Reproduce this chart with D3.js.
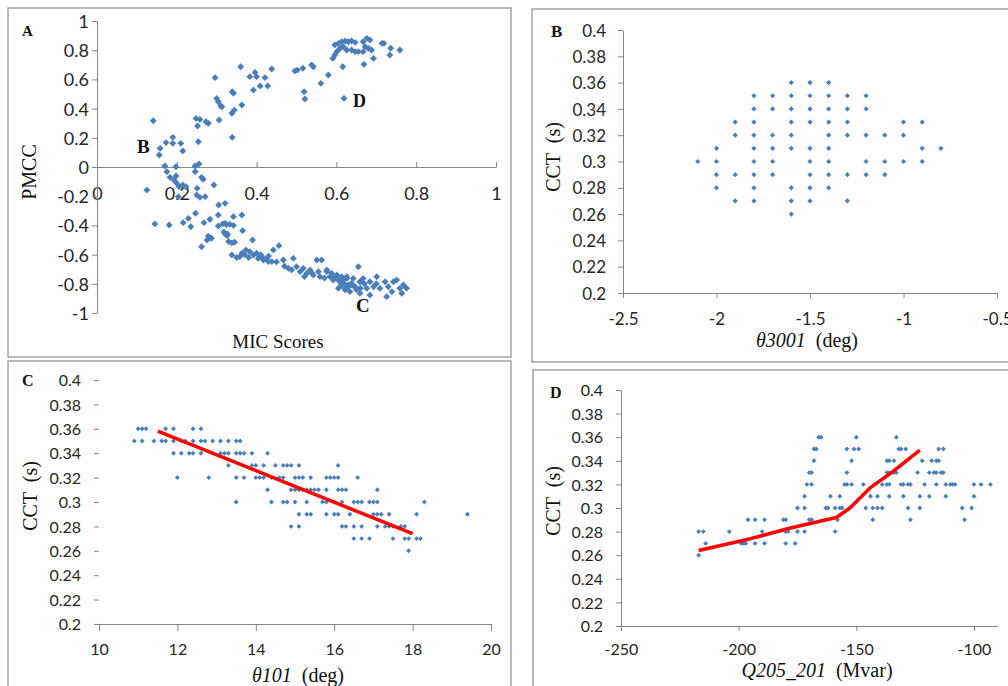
<!DOCTYPE html>
<html>
<head>
<meta charset="utf-8">
<script src="https://cdn.jsdelivr.net/npm/d3@7"></script>
<style>
    body { margin: 0; background: #fff; }
    .title { font-family: "Liberation Serif", "Times New Roman", serif; fill: #111; white-space: pre; }
</style>
</head>
<body>
<div id="chart"></div>
<script>
// ---- Panel A: MIC score vs PMCC for every variable ----
const pointsA = [
    [0.141,0.317],[0.158,0.128],[0.156,0.082],[0.173,0.167],[0.190,0.203],[0.190,0.162],[0.210,0.162],[0.215,0.110],
    [0.254,0.173],[0.248,0.333],[0.258,0.326],[0.273,0.310],[0.279,0.299],[0.306,0.322],[0.300,0.470],[0.310,0.418],
    [0.252,0.281],[0.296,0.612],[0.304,0.447],[0.313,0.413],[0.338,0.368],[0.344,0.390],[0.339,0.203],[0.342,0.505],
    [0.339,0.516],[0.363,0.425],[0.360,0.687],[0.383,0.619],[0.396,0.648],[0.400,0.619],[0.421,0.612],[0.438,0.671],
    [0.392,0.527],[0.409,0.555],[0.428,0.555],[0.496,0.658],[0.502,0.664],[0.516,0.676],[0.538,0.699],[0.542,0.687],
    [0.519,0.516],[0.521,0.466],[0.561,0.573],[0.580,0.630],[0.591,0.744],[0.596,0.767],[0.601,0.790],[0.596,0.836],
    [0.605,0.847],[0.613,0.858],[0.622,0.863],[0.630,0.858],[0.638,0.863],[0.647,0.854],[0.609,0.813],[0.617,0.824],
    [0.626,0.801],[0.638,0.801],[0.647,0.790],[0.655,0.790],[0.667,0.858],[0.676,0.881],[0.684,0.870],[0.672,0.824],
    [0.680,0.813],[0.688,0.801],[0.667,0.790],[0.693,0.744],[0.669,0.703],[0.714,0.847],[0.719,0.847],[0.736,0.813],
    [0.734,0.767],[0.759,0.801],[0.616,0.687],[0.619,0.470],[0.170,0.007],[0.198,0.002],[0.246,0.007],[0.256,0.021],
    [0.175,-0.032],[0.183,-0.071],[0.193,-0.089],[0.198,-0.062],[0.200,-0.112],[0.206,-0.135],[0.215,-0.123],[0.223,-0.135],
    [0.204,-0.203],[0.125,-0.158],[0.246,-0.032],[0.262,-0.071],[0.266,-0.084],[0.251,-0.146],[0.250,-0.192],[0.258,-0.208],
    [0.271,-0.203],[0.293,-0.123],[0.305,-0.260],[0.321,-0.249],[0.145,-0.390],[0.181,-0.397],[0.216,-0.381],[0.229,-0.352],
    [0.235,-0.409],[0.247,-0.317],[0.268,-0.381],[0.283,-0.358],[0.304,-0.329],[0.304,-0.404],[0.321,-0.386],[0.327,-0.459],
    [0.262,-0.546],[0.279,-0.473],[0.287,-0.488],[0.315,-0.390],[0.325,-0.395],[0.333,-0.392],[0.342,-0.400],[0.342,-0.340],
    [0.363,-0.329],[0.365,-0.436],[0.276,-0.500],[0.318,-0.445],[0.322,-0.460],[0.326,-0.470],[0.330,-0.510],[0.338,-0.520],
    [0.345,-0.515],[0.338,-0.603],[0.358,-0.614],[0.363,-0.591],[0.373,-0.568],[0.383,-0.580],[0.390,-0.500],[0.392,-0.603],
    [0.400,-0.591],[0.404,-0.626],[0.413,-0.614],[0.417,-0.637],[0.425,-0.626],[0.429,-0.648],[0.438,-0.648],[0.442,-0.568],
    [0.456,-0.539],[0.467,-0.637],[0.480,-0.694],[0.488,-0.705],[0.492,-0.626],[0.500,-0.683],[0.509,-0.717],[0.517,-0.694],
    [0.526,-0.728],[0.534,-0.705],[0.542,-0.740],[0.551,-0.637],[0.563,-0.637],[0.555,-0.717],[0.559,-0.751],[0.576,-0.717],
    [0.584,-0.751],[0.592,-0.774],[0.601,-0.740],[0.609,-0.786],[0.617,-0.774],[0.626,-0.751],[0.630,-0.808],[0.622,-0.842],
    [0.576,-0.705],[0.588,-0.728],[0.596,-0.751],[0.605,-0.774],[0.613,-0.808],[0.622,-0.831],[0.630,-0.820],[0.638,-0.797],
    [0.647,-0.820],[0.655,-0.683],[0.659,-0.786],[0.667,-0.763],[0.676,-0.831],[0.684,-0.786],[0.693,-0.820],[0.701,-0.751],
    [0.709,-0.831],[0.722,-0.786],[0.730,-0.820],[0.739,-0.854],[0.743,-0.786],[0.751,-0.774],[0.759,-0.831],[0.768,-0.808],
    [0.776,-0.831],[0.726,-0.888],[0.764,-0.865],[0.605,-0.831],[0.634,-0.854],[0.659,-0.865],[0.684,-0.877],[0.642,-0.763],
    [0.626,-0.763],[0.613,-0.751],[0.350,-0.620],[0.370,-0.600],[0.380,-0.620],[0.410,-0.600],[0.430,-0.610],[0.450,-0.650],
    [0.470,-0.680],[0.520,-0.750],[0.540,-0.730],[0.570,-0.760],[0.650,-0.840],[0.670,-0.800],[0.700,-0.800],[0.640,-0.810],
    [0.660,-0.830],[0.620,-0.800]
];
const micTicks = [0, 0.2, 0.4, 0.6, 0.8, 1];
const pmccTicks = [-1, -0.8, -0.6, -0.4, -0.2, 0, 0.2, 0.4, 0.6, 0.8, 1];

// ---- Panel B: theta3001 vs CCT (grid of values) ----
const thetaB = [-2.1, -2.0, -1.9, -1.8, -1.7, -1.6, -1.5, -1.4, -1.3, -1.2, -1.1, -1.0, -0.9, -0.8];
const cctByThetaB = [
    [0.30],
    [0.31, 0.30, 0.29, 0.28],
    [0.33, 0.32, 0.29, 0.27],
    [0.35, 0.34, 0.33, 0.32, 0.31, 0.30, 0.29, 0.28, 0.27],
    [0.35, 0.34, 0.32, 0.31, 0.30, 0.29],
    [0.36, 0.35, 0.34, 0.33, 0.32, 0.31, 0.28, 0.27, 0.26],
    [0.36, 0.35, 0.34, 0.33, 0.31, 0.30, 0.29, 0.28, 0.27],
    [0.36, 0.35, 0.34, 0.33, 0.32, 0.31, 0.30, 0.29, 0.28],
    [0.35, 0.34, 0.33, 0.32, 0.29, 0.27],
    [0.35, 0.34, 0.32, 0.30, 0.29],
    [0.32, 0.30, 0.29],
    [0.33, 0.32, 0.30],
    [0.33, 0.31, 0.30],
    [0.31]
];
const thetaBTicks = [-2.5, -2, -1.5, -1, -0.5];
const cctTicks = [0.2, 0.22, 0.24, 0.26, 0.28, 0.3, 0.32, 0.34, 0.36, 0.38, 0.4];

// ---- Panel C: theta101 vs CCT ----
const cctLevelsC = [0.36, 0.35, 0.34, 0.33, 0.32, 0.31, 0.30, 0.29, 0.28, 0.27, 0.26];
const thetaByLevelC = [
    [11.0, 11.1, 11.2, 11.7, 11.9, 12.4, 12.6],
    [10.9, 11.1, 11.4, 11.6, 11.7, 11.9, 12.1, 12.2, 12.4, 12.6, 12.7, 12.9, 13.1, 13.3, 13.5, 13.6],
    [11.9, 12.1, 12.3, 12.4, 12.6, 12.9, 13.1, 13.2, 13.3, 13.5, 13.6, 13.7, 13.9, 14.3],
    [13.3, 13.9, 14.0, 14.2, 14.5, 14.7, 14.8, 14.9, 15.1, 16.1],
    [12.0, 12.8, 13.5, 13.7, 14.0, 14.1, 14.2, 14.4, 14.6, 14.7, 15.0, 15.1, 15.2, 15.4, 15.8, 15.9, 16.0, 16.1, 16.6],
    [14.3, 14.9, 15.0, 15.1, 15.2, 15.3, 15.4, 15.5, 15.6, 15.8, 16.1, 16.2, 16.3, 17.1],
    [13.5, 14.4, 14.7, 14.8, 15.0, 15.3, 15.7, 15.8, 16.0, 16.2, 16.5, 16.6, 16.7, 16.9, 17.0, 17.1, 18.3],
    [15.1, 15.3, 15.4, 15.8, 16.0, 16.1, 16.4, 17.0, 17.1, 17.2, 17.4, 18.1, 19.4],
    [14.9, 15.1, 16.2, 16.3, 16.5, 16.7, 17.1, 17.3, 17.4, 17.5, 17.7, 17.8],
    [16.5, 16.7, 16.9, 17.5, 17.8, 17.9, 18.1, 18.2],
    [17.9]
];
const fitC = [[11.5, 0.358], [18.0, 0.274]];
const thetaCTicks = [10, 12, 14, 16, 18, 20];

// ---- Panel D: Q205_201 vs CCT ----
const cctLevelsD = [0.36, 0.35, 0.34, 0.33, 0.32, 0.31, 0.30, 0.29, 0.28, 0.27, 0.26];
const qByLevelD = [
    [-166, -165, -150, -133],
    [-168, -167, -154, -151, -149, -132, -131, -129, -115, -113],
    [-168, -152, -137, -136, -134, -122, -118, -116, -115],
    [-170, -169, -154, -137, -136, -134, -133, -124, -119, -117, -116, -114, -113],
    [-171, -169, -155, -154, -152, -147, -139, -137, -136, -131, -130, -128, -127, -121, -116, -112, -110, -109, -108, -100, -97, -93],
    [-172, -161, -157, -144, -141, -136, -130, -123, -119, -112, -100],
    [-175, -172, -163, -162, -159, -157, -156, -146, -143, -141, -139, -128, -123, -105, -101],
    [-196, -193, -189, -181, -180, -170, -169, -163, -158, -143, -127, -104],
    [-217, -215, -204, -190, -180, -179, -175, -172, -159],
    [-214, -199, -198, -197, -193, -189, -180, -176],
    [-217]
];
const fitD = [[-217, 0.264], [-195, 0.274], [-178, 0.283], [-158.5, 0.292], [-152.7, 0.300], [-144.2, 0.317], [-135.7, 0.329], [-123, 0.349]];
const qTicks = [-250, -200, -150, -100];

// flatten the grouped series into [x, y] pairs
const pointsB = thetaB.flatMap((t, i) => cctByThetaB[i].map(c => [t, c]));
const pointsC = cctLevelsC.flatMap((c, i) => thetaByLevelC[i].map(t => [t, c]));
const pointsD = cctLevelsD.flatMap((c, i) => qByLevelD[i].map(q => [q, c]));

const svg = d3.select("#chart").append("svg")
    .attr("width", 1008)
    .attr("height", 686)
    .style("background", "#fff");

const fmt = d => String(+d.toFixed(2));
const diamond = d3.symbolDiamond2 || d3.symbolSquare;

function drawPanel(p) {
    let g = svg.append("g");

    // frame
    g.append("rect")
        .attr("x", p.box[0]).attr("y", p.box[1])
        .attr("width", p.box[2]).attr("height", p.box[3])
        .attr("fill", "none")
        .attr("stroke", "#8c8c8c")
        .attr("stroke-width", 1.2);

    let x = d3.scaleLinear().domain(p.xDomain).range(p.xRange);
    let y = d3.scaleLinear().domain(p.yDomain).range(p.yRange);

    // x axis
    let xg = g.append("g")
        .attr("transform", `translate(0,${p.xAxisY})`)
        .call(d3.axisBottom(x).tickValues(p.xTicks).tickFormat(fmt).tickSizeInner(p.xTickSize).tickSizeOuter(0));
    xg.attr("font-family", "Lato, 'Open Sans', sans-serif").attr("font-size", p.fontSize).attr("color", "#868686");
    xg.selectAll("text").attr("y", p.xLabelY - p.xAxisY).attr("dy", 0).attr("fill", "#262626");

    // y axis
    let yg = g.append("g")
        .attr("transform", `translate(${p.yAxisX},0)`)
        .call(d3.axisLeft(y).tickValues(p.yTicks).tickFormat(fmt).tickSizeInner(5).tickSizeOuter(0));
    yg.attr("font-family", "Lato, 'Open Sans', sans-serif").attr("font-size", p.fontSize).attr("color", "#868686");
    yg.selectAll("text").attr("x", p.yLabelX - p.yAxisX).attr("dy", "0.36em").attr("fill", "#262626");
    if (p.hideYLine) yg.select(".domain").remove();

    // points
    g.append("g").selectAll("path")
        .data(p.points)
        .enter().append("path")
        .attr("d", d3.symbol().type(diamond).size(p.markerSize))
        .attr("transform", d => `translate(${x(d[0])},${y(d[1])})` + (diamond === d3.symbolSquare ? " rotate(45)" : ""))
        .attr("fill", "#4a7ebb");

    // fitted line
    if (p.fit) {
        g.append("path")
            .datum(p.fit)
            .attr("d", d3.line().x(d => x(d[0])).y(d => y(d[1])))
            .attr("fill", "none")
            .attr("stroke", "#ff0000")
            .attr("stroke-width", 3.5)
            .attr("stroke-linejoin", "round");
    }

    // axis titles
    g.append("text")
        .attr("class", "title")
        .attr("transform", `translate(${p.yTitle[0]},${p.yTitle[1]}) rotate(-90)`)
        .attr("dy", "0.35em")
        .attr("text-anchor", "middle")
        .attr("font-size", 20)
        .text(p.yTitle[2]);

    let xt = g.append("text")
        .attr("class", "title")
        .attr("x", p.xTitle[0]).attr("y", p.xTitle[1])
        .attr("text-anchor", "middle")
        .attr("font-size", p.xTitle[3]);
    if (p.xTitleItalic) {
        xt.append("tspan").attr("font-style", "italic").text(p.xTitleItalic);
    }
    xt.append("tspan").text(p.xTitle[2]);

    // panel letters / annotations
    p.labels.forEach(l => {
        g.append("text")
            .attr("class", "title")
            .attr("x", l[1]).attr("y", l[2])
            .attr("font-weight", "bold")
            .attr("font-size", l[3])
            .text(l[0]);
    });
}

drawPanel({
    box: [8, 8, 503, 349],
    xDomain: [0, 1], xRange: [97, 496],
    yDomain: [-1, 1], yRange: [313, 21],
    xTicks: micTicks, yTicks: pmccTicks,
    xAxisY: 167, xTickSize: -5, xLabelY: 200,
    yAxisX: 97, yLabelX: 89,
    fontSize: 18, markerSize: 30,
    points: pointsA,
    yTitle: [29, 172, "PMCC"],
    xTitle: [278, 348, "MIC Scores", 19],
    labels: [["A", 22, 36, 15], ["B", 137, 153, 19], ["D", 353, 107, 18], ["C", 356, 312, 19]]
});

drawPanel({
    box: [532, 9, 490, 353],
    xDomain: [-2.5, -0.5], xRange: [623, 997],
    yDomain: [0.2, 0.4], yRange: [293, 30],
    xTicks: thetaBTicks, yTicks: cctTicks,
    xAxisY: 293, xTickSize: 5, xLabelY: 325,
    yAxisX: 623, yLabelX: 606,
    fontSize: 17, markerSize: 17,
    points: pointsB,
    yTitle: [553, 157, "CCT  (s)"],
    xTitleItalic: "\u03b83001",
    xTitle: [807, 347, "  (deg)", 20],
    labels: [["B", 551, 37, 17]]
});

drawPanel({
    box: [8, 361, 503, 340],
    xDomain: [10, 20], xRange: [99, 491],
    yDomain: [0.2, 0.4], yRange: [624, 380],
    xTicks: thetaCTicks, yTicks: cctTicks,
    xAxisY: 624, xTickSize: 7, xLabelY: 655,
    yAxisX: 99, yLabelX: 81,
    fontSize: 16, markerSize: 15, hideYLine: true,
    points: pointsC, fit: fitC,
    yTitle: [30, 496, "CCT  (s)"],
    xTitleItalic: "\u03b8101",
    xTitle: [298, 682, "  (deg)", 20],
    labels: [["C", 22, 386, 16]]
});

drawPanel({
    box: [533, 370, 490, 340],
    xDomain: [-250, -90], xRange: [621, 997.5],
    yDomain: [0.2, 0.4], yRange: [626, 390],
    xTicks: qTicks, yTicks: cctTicks,
    xAxisY: 626, xTickSize: 5, xLabelY: 655,
    yAxisX: 621, yLabelX: 603,
    fontSize: 16, markerSize: 15,
    points: pointsD, fit: fitD,
    yTitle: [553, 501, "CCT  (s)"],
    xTitleItalic: "Q205_201",
    xTitle: [817, 677, "  (Mvar)", 20],
    labels: [["D", 550, 398, 16]]
});
</script>
</body>
</html>
